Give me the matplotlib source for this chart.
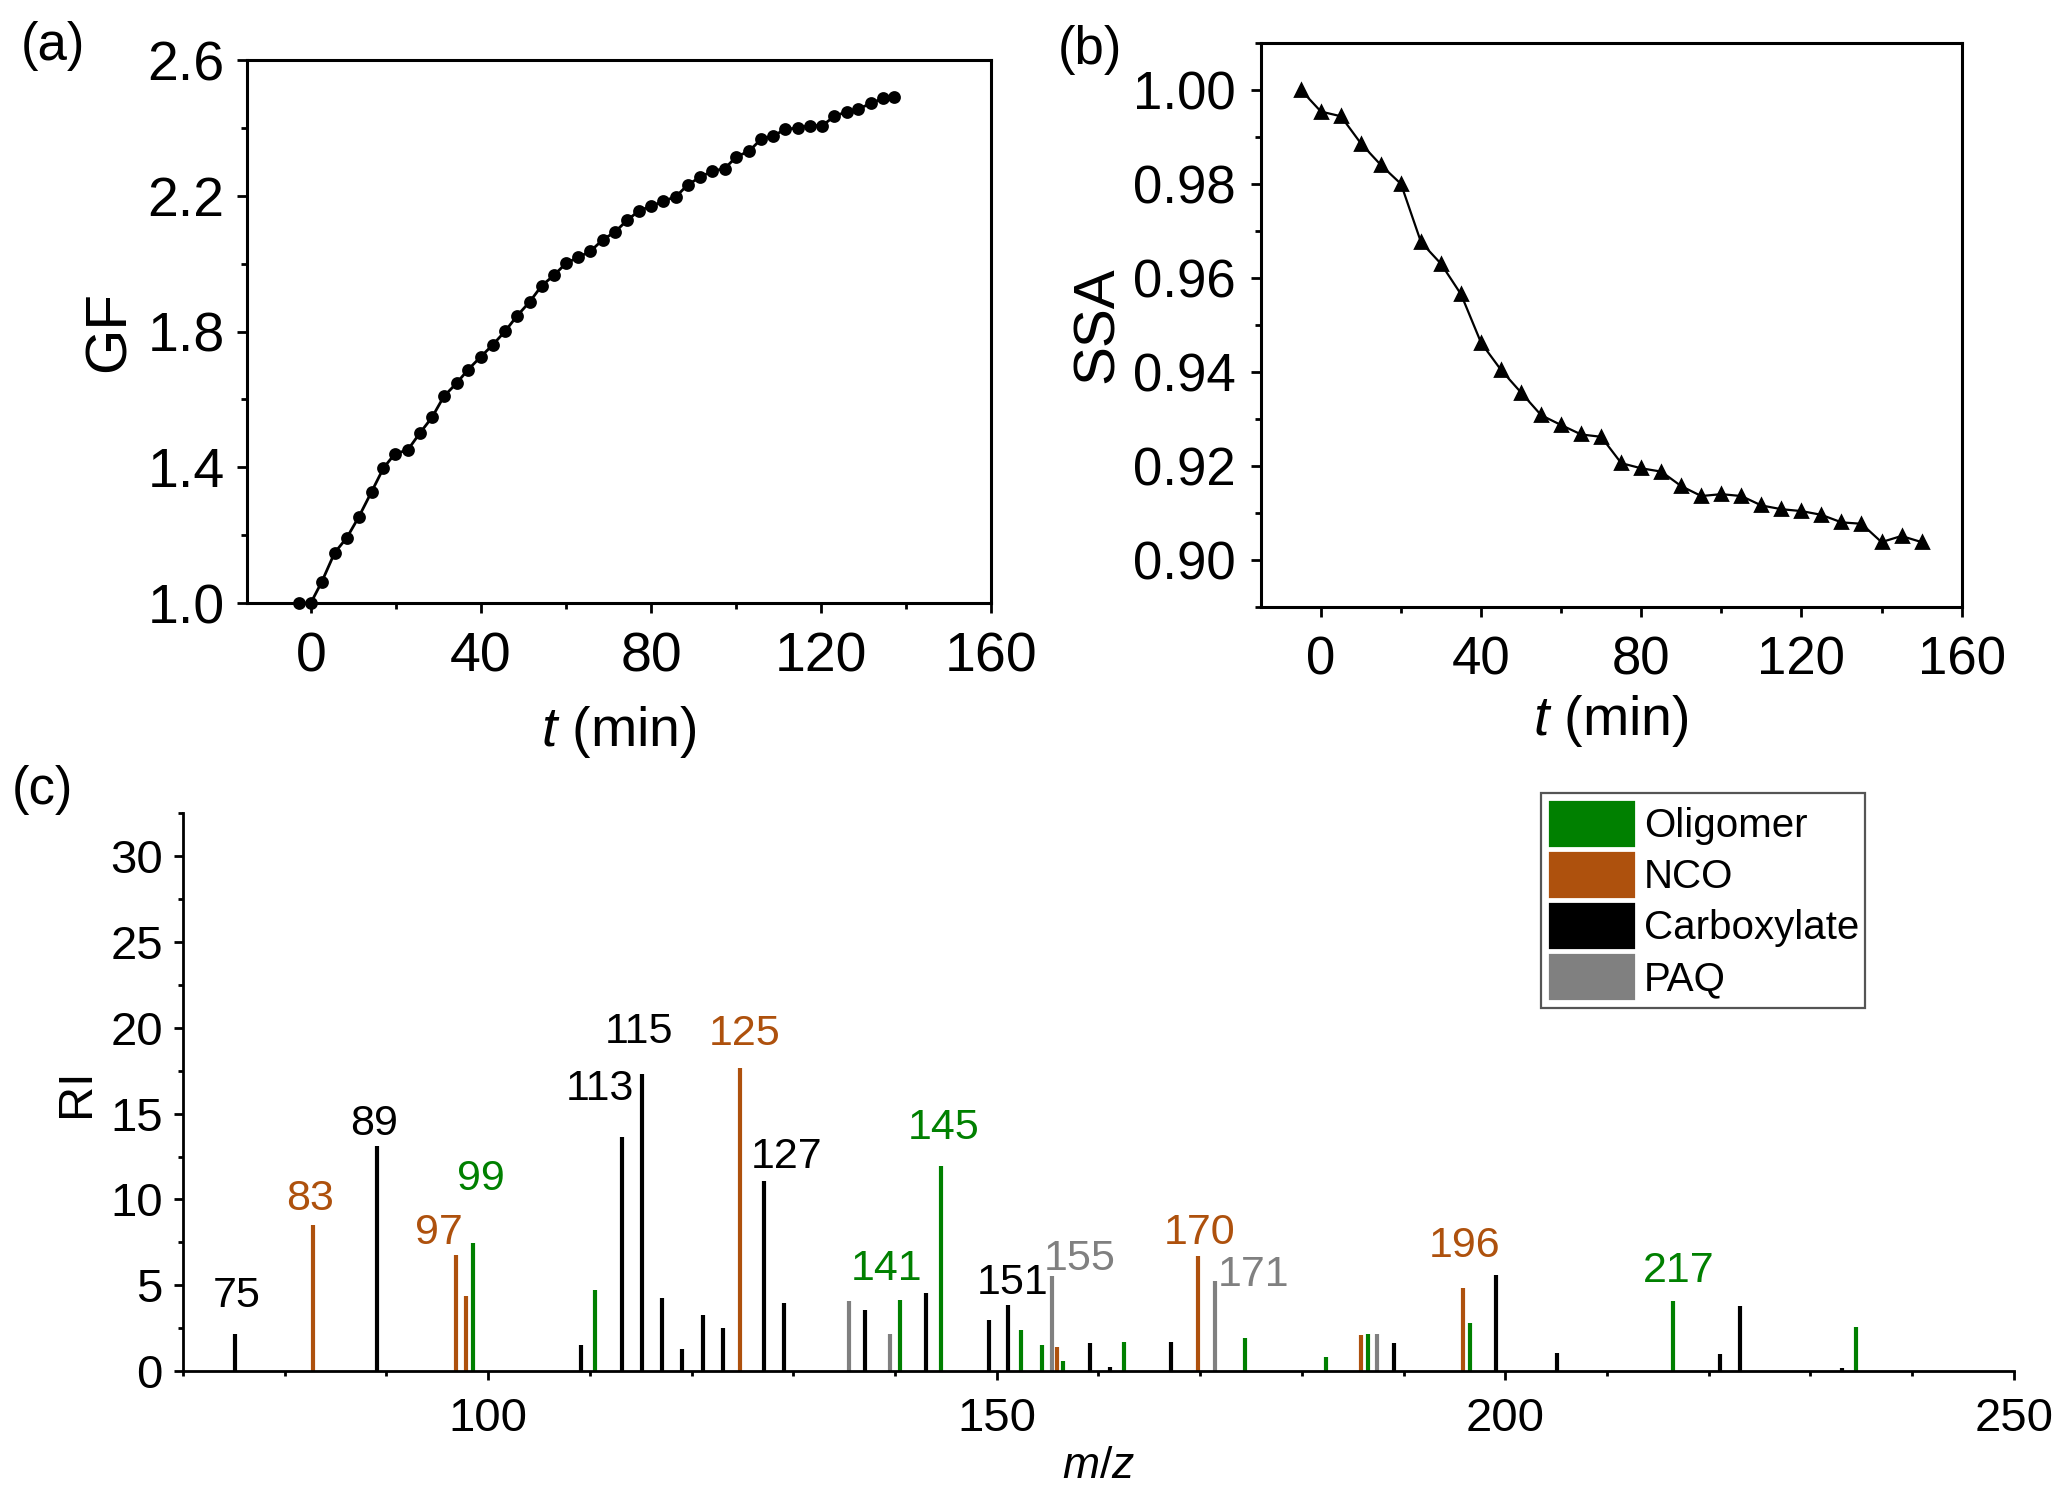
import matplotlib
matplotlib.use("Agg")
import matplotlib.pyplot as plt
from matplotlib.patches import Patch
from matplotlib.ticker import MultipleLocator, FormatStrFormatter

plt.rcParams['font.family'] = ['Liberation Sans', 'DejaVu Sans']
plt.rcParams['mathtext.fontset'] = 'custom'
plt.rcParams['mathtext.rm'] = 'Liberation Sans'
plt.rcParams['mathtext.it'] = 'Liberation Sans:italic'

# (a) growth factor vs time
gf_t = [-2.8, 0.0, 2.6, 5.6, 8.5, 11.3, 14.3, 17.1, 19.8, 22.8, 25.6, 28.5, 31.3, 34.3,
        37.0, 40.0, 42.8, 45.7, 48.5, 51.5, 54.3, 57.2, 60.0, 62.9, 65.7, 68.7, 71.5,
        74.4, 77.2, 80.1, 82.9, 85.9, 88.7, 91.6, 94.4, 97.3, 100.1, 103.1, 105.9,
        108.8, 111.6, 114.5, 117.3, 120.3, 123.1, 126.0, 128.8, 131.8, 134.5, 137.2]
gf = [1.000, 1.000, 1.063, 1.148, 1.193, 1.254, 1.328, 1.398, 1.440, 1.451, 1.500,
      1.547, 1.609, 1.648, 1.688, 1.726, 1.761, 1.801, 1.846, 1.888, 1.935, 1.966,
      2.001, 2.019, 2.036, 2.071, 2.093, 2.128, 2.156, 2.170, 2.184, 2.198, 2.233,
      2.255, 2.273, 2.280, 2.315, 2.332, 2.367, 2.377, 2.396, 2.400, 2.407, 2.407,
      2.434, 2.448, 2.456, 2.473, 2.487, 2.491]
gf_yticks = [1.0, 1.4, 1.8, 2.2, 2.6]
gf_yminor = [1.2, 1.6, 2.0, 2.4]

# (b) single scattering albedo vs time
ssa_t = [-5, 0, 5, 10, 15, 20, 25, 30, 35, 40, 45, 50, 55, 60, 65, 70, 75, 80, 85, 90,
         95, 100, 105, 110, 115, 120, 125, 130, 135, 140, 145, 150]
ssa = [1.000, 0.9954, 0.9944, 0.9886, 0.9840, 0.9800, 0.9676, 0.9630, 0.9565, 0.9462,
       0.9404, 0.9356, 0.9308, 0.9287, 0.9267, 0.9262, 0.9206, 0.9195, 0.9188, 0.9157,
       0.9136, 0.9140, 0.9136, 0.9116, 0.9108, 0.9104, 0.9096, 0.9080, 0.9077, 0.9038,
       0.9051, 0.9038]

# (c) mass spectrum
olig_mz = [98.5, 110.5, 140.5, 144.5, 152.4, 154.5, 156.5, 162.5, 174.4, 182.4, 186.5,
           196.5, 216.5, 234.5]
olig_ri = [7.44, 4.74, 4.14, 11.97, 2.41, 1.50, 0.60, 1.67, 1.90, 0.84, 2.18, 2.81, 4.08, 2.54]
nco_mz = [82.8, 96.8, 97.8, 124.8, 155.9, 169.8, 185.8, 195.8]
nco_ri = [8.52, 6.75, 4.38, 17.65, 1.40, 6.72, 2.12, 4.86]
carb_mz = [75.1, 89.1, 109.1, 113.2, 115.1, 117.1, 119.1, 121.1, 123.1, 127.1, 129.1,
           137.1, 143.1, 149.2, 151.1, 159.2, 161.1, 167.1, 189.1, 199.1, 205.1, 221.1,
           223.1, 233.1]
carb_ri = [2.18, 13.12, 1.52, 13.62, 17.34, 4.24, 1.28, 3.28, 2.53, 11.08, 3.95, 3.56,
           4.55, 2.99, 3.87, 1.61, 0.25, 1.69, 1.66, 5.57, 1.05, 0.99, 3.81, 0.17]
paq_mz = [135.5, 139.5, 155.4, 171.5, 187.4]
paq_ri = [4.10, 2.18, 5.52, 5.27, 2.18]

peak_text = ['75', '83', '89', '97', '99', '113', '115', '125', '127', '141', '145',
             '151', '155', '170', '171', '196', '217']
peak_x = [75.3, 82.5, 88.8, 95.2, 99.3, 111.0, 114.8, 125.2, 129.3, 139.2, 144.8,
          151.6, 158.2, 169.9, 175.3, 196.0, 217.0]
peak_y = [4.36, 10.02, 14.38, 8.03, 11.21, 16.45, 19.76, 19.63, 12.5, 5.93, 14.19,
          5.15, 6.53, 8.07, 5.58, 7.26, 5.83]
peak_cls = ['carb', 'nco', 'carb', 'nco', 'olig', 'carb', 'carb', 'nco', 'carb', 'olig',
            'olig', 'carb', 'paq', 'nco', 'paq', 'nco', 'olig']

colors = {'olig': '#008000', 'nco': '#AE510D', 'carb': '#000000', 'paq': '#808080'}

fig = plt.figure(figsize=(10.335, 7.51), dpi=200)

# ---- (a)
ax1 = fig.add_axes([0.1195, 0.5985, 0.36, 0.3615])
ax1.plot(gf_t, gf, '-o', color='black', lw=1.0, ms=3.6, clip_on=False, zorder=3)
ax1.set_xlim(-15, 160)
ax1.set_ylim(1.0, 2.6)
ax1.xaxis.set_major_locator(MultipleLocator(40))
ax1.xaxis.set_minor_locator(MultipleLocator(20))
ax1.set_yticks(gf_yticks)
ax1.set_yticks(gf_yminor, minor=True)
ax1.yaxis.set_major_formatter(FormatStrFormatter('%.1f'))
ax1.tick_params(which='both', direction='out', width=1.0, top=False, right=False)
ax1.tick_params(which='major', length=3.6)
ax1.tick_params(which='minor', length=2.0)
ax1.tick_params(axis='y', pad=4.5)
ax1.tick_params(axis='x', pad=6.5)
ax1.tick_params(labelsize=20)
ax1.set_xlabel('$t$ (min)', fontsize=20, labelpad=7.5)
ax1.set_ylabel('GF', fontsize=21, labelpad=4)
for sp in ax1.spines.values():
    sp.set_linewidth(1.1)

# ---- (b)
ax2 = fig.add_axes([0.610, 0.5959, 0.339, 0.3755])
ax2.plot(ssa_t, ssa, '-^', color='black', lw=0.8, ms=4.5, zorder=3)
ax2.set_xlim(-15, 160)
ax2.set_ylim(0.89, 1.01)
ax2.xaxis.set_major_locator(MultipleLocator(40))
ax2.xaxis.set_minor_locator(MultipleLocator(20))
ax2.yaxis.set_major_locator(MultipleLocator(0.02))
ax2.yaxis.set_minor_locator(MultipleLocator(0.01))
ax2.yaxis.set_major_formatter(FormatStrFormatter('%.2f'))
ax2.tick_params(which='both', direction='out', width=1.0, top=False, right=False)
ax2.tick_params(which='major', length=3.6)
ax2.tick_params(which='minor', length=2.0)
ax2.tick_params(axis='y', pad=5.5)
ax2.tick_params(axis='x', pad=6.5)
ax2.tick_params(labelsize=19)
ax2.set_xlabel('$t$ (min)', fontsize=20, labelpad=3)
ax2.set_ylabel('SSA', fontsize=21, labelpad=3)
for sp in ax2.spines.values():
    sp.set_linewidth(1.1)

# ---- (c)
ax3 = fig.add_axes([0.0885, 0.0872, 0.8858, 0.3712])
ax3.vlines(olig_mz, 0, olig_ri, color=colors['olig'], lw=1.5)
ax3.vlines(nco_mz, 0, nco_ri, color=colors['nco'], lw=1.5)
ax3.vlines(carb_mz, 0, carb_ri, color=colors['carb'], lw=1.5)
ax3.vlines(paq_mz, 0, paq_ri, color=colors['paq'], lw=1.5)
for txt, x, y, c in zip(peak_text, peak_x, peak_y, peak_cls):
    ax3.text(x, y, txt, color=colors[c], fontsize=15.5, ha='center', va='center')
ax3.set_xlim(70, 250)
ax3.set_ylim(0, 32.5)
ax3.xaxis.set_major_locator(MultipleLocator(50))
ax3.xaxis.set_minor_locator(MultipleLocator(10))
ax3.yaxis.set_major_locator(MultipleLocator(5))
ax3.yaxis.set_minor_locator(MultipleLocator(2.5))
ax3.spines['top'].set_visible(False)
ax3.spines['right'].set_visible(False)
for sp in ax3.spines.values():
    sp.set_linewidth(1.0)
ax3.tick_params(which='both', direction='out', width=1.0)
ax3.tick_params(which='major', length=3.2)
ax3.tick_params(which='minor', length=1.8)
ax3.tick_params(axis='both', labelsize=17)
ax3.tick_params(axis='y', pad=4)
ax3.tick_params(axis='x', pad=6)
ax3.set_xlabel('$m/z$', fontsize=16, labelpad=2)
ax3.set_ylabel('RI', fontsize=17.5, labelpad=4)

handles = [Patch(facecolor=colors['olig'], edgecolor='white', label='Oligomer'),
           Patch(facecolor=colors['nco'], edgecolor='white', label='NCO'),
           Patch(facecolor=colors['carb'], edgecolor='white', label='Carboxylate'),
           Patch(facecolor=colors['paq'], edgecolor='white', label='PAQ')]
leg = ax3.legend(handles=handles, loc='upper left', bbox_to_anchor=(0.7417, 1.037),
                 fontsize=14.5, handlelength=2.2, handleheight=1.5, labelspacing=0.05,
                 handletextpad=0.2, borderpad=0.15, borderaxespad=0, fancybox=False,
                 framealpha=1, edgecolor='#555555')
leg.get_frame().set_linewidth(0.8)

fig.text(53 / 2067, 1 - 46 / 1502, '(a)', fontsize=19, ha='center', va='center')
fig.text(1090 / 2067, 1 - 50 / 1502, '(b)', fontsize=19, ha='center', va='center')
fig.text(42 / 2067, 1 - 790 / 1502, '(c)', fontsize=19, ha='center', va='center')

fig.savefig('out.png', dpi=200)
